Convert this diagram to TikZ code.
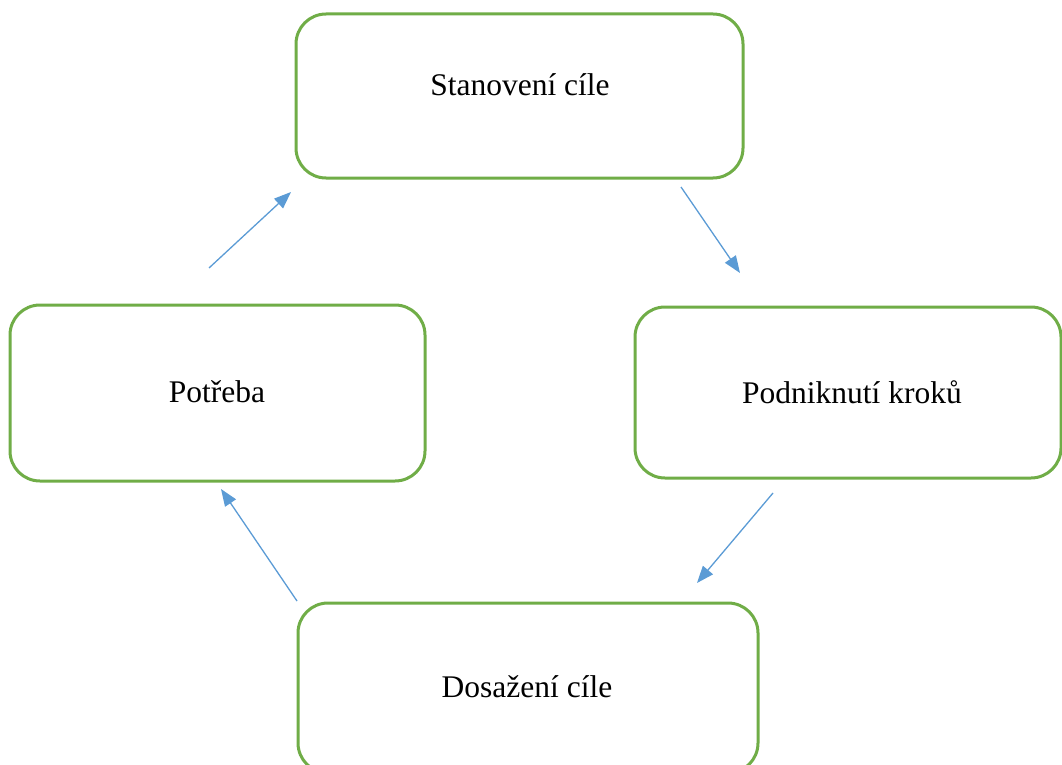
\documentclass[tikz,border=0pt]{standalone}
\usepackage{fontspec}
\setmainfont{Liberation Serif}
\usetikzlibrary{arrows.meta}
\definecolor{stagegreen}{HTML}{70AD47}
\definecolor{flowblue}{HTML}{5B9BD5}

\tikzset{
    stage/.style={draw=stagegreen, line width=3pt, rounded corners=30pt, fill=white},
    caption/.style={font=\fontsize{31.5}{38}\selectfont, inner sep=0pt},
    flow/.style={draw=flowblue, line width=1.3pt, -{Triangle[length=17pt,width=13pt]}}
    }

\begin{document}
\begin{tikzpicture}[x=1pt, y=-1pt]
                \useasboundingbox (0,0) rectangle (1062,765);
                \clip (0,0) rectangle (1062,765);
                % The Boxes
                \node(goal)[stage, minimum width=447pt, minimum height=164pt] at (519.5,96) {};
                \node(goal-text)[caption] at (520,85) {Stanovení cíle};
                \node(steps)[stage, minimum width=426pt, minimum height=171pt] at (848,392.5) {};
                \node(steps-text)[caption] at (852,392) {Podniknutí kroků};
                \node(done)[stage, minimum width=460pt, minimum height=170pt] at (528,688) {};
                \node(done-text)[caption] at (527,687) {Dosažení cíle};
                \node(need)[stage, minimum width=415pt, minimum height=176pt] at (217.5,393) {};
                \node(need-text)[caption] at (217,392) {Potřeba};
                % The Arrows
                \coordinate (need-out) at (209,268);
                \coordinate (goal-in) at (291,192);
                \coordinate (goal-out) at (681,187);
                \coordinate (steps-in) at (740,273);
                \coordinate (steps-out) at (773,493);
                \coordinate (done-in) at (697,583);
                \coordinate (done-out) at (297,601);
                \coordinate (need-in) at (221,489);
                \draw[flow] (need-out) -- (goal-in);
                \draw[flow] (goal-out) -- (steps-in);
                \draw[flow] (steps-out) -- (done-in);
                \draw[flow] (done-out) -- (need-in);
            \end{tikzpicture}
\end{document}
